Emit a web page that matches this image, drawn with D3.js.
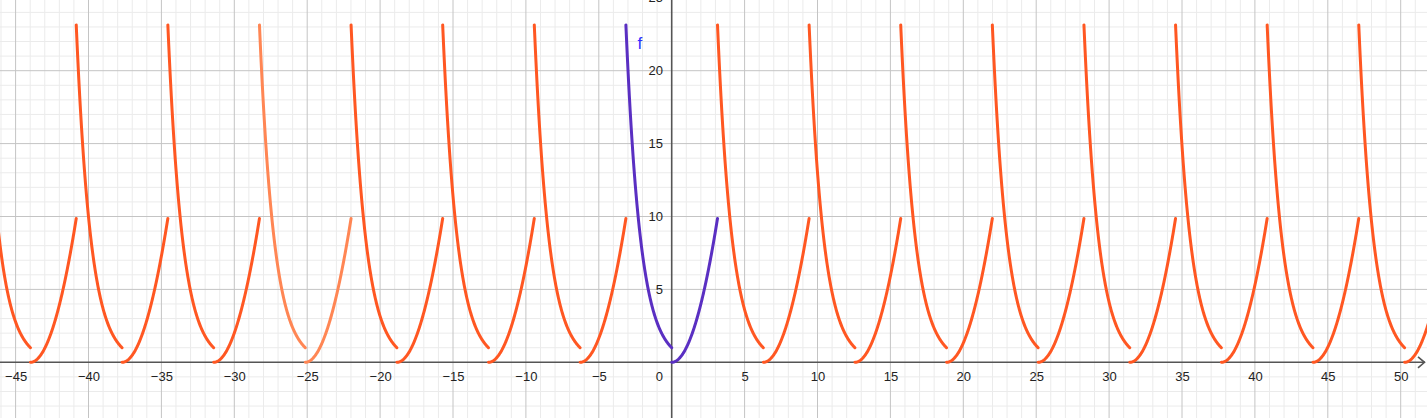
<!DOCTYPE html>
<html>
<head>
<meta charset="utf-8">
<script src="https://cdn.jsdelivr.net/npm/d3@7"></script>
<style>
  html, body { margin: 0; padding: 0; background: #fff; }
  svg { display: block; }
  text { font-family: "Liberation Sans", Arial, sans-serif; }
</style>
</head>
<body>
<svg id="chart" width="1427" height="418"></svg>
<script>
// ---- data ----
// f(x) = e^(-x) on [-π, 0), x² on [0, π]; plus translated copies by 2πk
const pieces = [
  { name: "exp", from: -Math.PI, to: 0, fn: x => Math.exp(-x) },
  { name: "square", from: 0, to: Math.PI, fn: x => x * x }
];
const copyIndices = [-7, -6, -5, -4, -3, -2, -1, 1, 2, 3, 4, 5, 6, 7, 8];
const lightCopy = -4;
const xTickValues = [-45, -40, -35, -30, -25, -20, -15, -10, -5, 5, 10, 15, 20, 25, 30, 35, 40, 45, 50];
const yTickValues = [5, 10, 15, 20, 25];
const fLabel = "f";

// ---- layout ----
const W = 1427, H = 418;
const ox = 671.7, oy = 362.3, unit = 14.58;
const x = d3.scaleLinear().domain([-ox / unit, (W - ox) / unit]).range([0, W]);
const y = d3.scaleLinear().domain([(oy - H) / unit, oy / unit]).range([H, 0]);

const svg = d3.select("#chart");
const [x0, x1] = x.domain(), [y0, y1] = y.domain();

// minor grid
const g = svg.append("g");
g.selectAll(".vmin").data(d3.range(Math.ceil(x0), Math.floor(x1) + 1).filter(v => v % 5 !== 0))
  .join("line").attr("x1", d => x(d)).attr("x2", d => x(d)).attr("y1", 0).attr("y2", H)
  .attr("stroke", "#ebebeb").attr("stroke-width", 1);
g.selectAll(".hmin").data(d3.range(Math.ceil(y0), Math.floor(y1) + 1).filter(v => v % 5 !== 0))
  .join("line").attr("y1", d => y(d)).attr("y2", d => y(d)).attr("x1", 0).attr("x2", W)
  .attr("stroke", "#ebebeb").attr("stroke-width", 1);
// major grid
g.selectAll(".vmaj").data(d3.range(Math.ceil(x0 / 5) * 5, x1, 5).filter(v => v !== 0))
  .join("line").attr("x1", d => x(d)).attr("x2", d => x(d)).attr("y1", 0).attr("y2", H)
  .attr("stroke", "#c4c4c4").attr("stroke-width", 1);
g.selectAll(".hmaj").data(d3.range(Math.ceil(y0 / 5) * 5, y1 + 1, 5).filter(v => v !== 0))
  .join("line").attr("y1", d => y(d)).attr("y2", d => y(d)).attr("x1", 0).attr("x2", W)
  .attr("stroke", "#c4c4c4").attr("stroke-width", 1);

// axes lines
svg.append("line").attr("x1", 0).attr("x2", W - 2).attr("y1", y(0)).attr("y2", y(0))
  .attr("stroke", "#555").attr("stroke-width", 1.6);
svg.append("line").attr("x1", x(0)).attr("x2", x(0)).attr("y1", 0).attr("y2", H)
  .attr("stroke", "#555").attr("stroke-width", 1.6);
// arrow on x axis
svg.append("path")
  .attr("d", `M${W - 9},${y(0) - 5.5}L${W - 2.5},${y(0)}L${W - 9},${y(0) + 5.5}`)
  .attr("fill", "none").attr("stroke", "#555").attr("stroke-width", 1.6);

// tick labels via d3 axes
const fmt = d3.format("");
const xAxis = svg.append("g").attr("transform", `translate(0,${y(0)})`)
  .call(d3.axisBottom(x).tickValues(xTickValues).tickSize(0).tickPadding(9).tickFormat(fmt));
xAxis.select(".domain").remove();
xAxis.selectAll("text").attr("font-size", 13).attr("fill", "#222")
  .attr("font-family", "'Liberation Sans', Arial, sans-serif");

const yAxis = svg.append("g").attr("transform", `translate(${x(0)},0)`)
  .call(d3.axisLeft(y).tickValues(yTickValues).tickSize(0).tickPadding(8.7).tickFormat(fmt));
yAxis.select(".domain").remove();
yAxis.selectAll("text").attr("font-size", 13).attr("fill", "#222")
  .attr("font-family", "'Liberation Sans', Arial, sans-serif");

svg.append("text").attr("x", x(0) - 8.7).attr("y", y(0) + 18.2).attr("text-anchor", "end")
  .attr("font-size", 13).attr("fill", "#222").text("0");

// curves
const line = d3.line().x(d => x(d[0])).y(d => y(d[1]));
function piecePoints(p, k) {
  const s = 2 * Math.PI * k, n = 160;
  return d3.range(n + 1).map(i => {
    const t = p.from + (p.to - p.from) * i / n;
    return [t + s, p.fn(t)];
  });
}
const curves = svg.append("g").attr("fill", "none").attr("stroke-linecap", "round").attr("stroke-linejoin", "round");
copyIndices.forEach(k => {
  pieces.forEach(p => {
    curves.append("path").attr("d", line(piecePoints(p, k)))
      .attr("stroke", k === lightCopy ? "#ff8654" : "#ff5722").attr("stroke-width", 3);
  });
});
pieces.forEach(p => {
  curves.append("path").attr("d", line(piecePoints(p, 0)))
    .attr("stroke", "#5a2fc2").attr("stroke-width", 3);
});

svg.append("text").attr("x", 637.5).attr("y", 49).attr("font-size", 17)
  .attr("fill", "#3030ff").text(fLabel);
</script>
</body>
</html>
